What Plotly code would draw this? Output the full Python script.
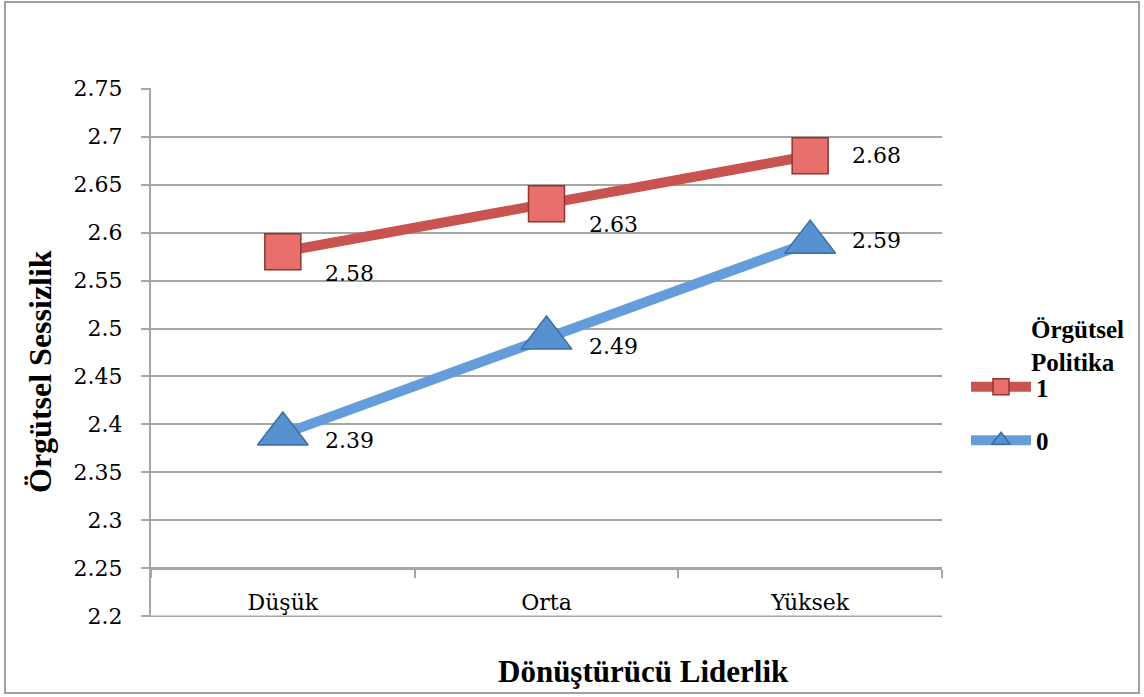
import plotly.graph_objects as go

# Category axis and series values
categories = ["Düşük", "Orta", "Yüksek"]
politika_1 = [2.58, 2.63, 2.68]
politika_0 = [2.39, 2.49, 2.59]
series_names = ["<b>1</b>", "<b>0</b>"]

y_tick_vals = [2.2, 2.25, 2.3, 2.35, 2.4, 2.45, 2.5, 2.55, 2.6, 2.65, 2.7, 2.75]
y_tick_text = ["2.2", "2.25", "2.3", "2.35", "2.4", "2.45", "2.5", "2.55", "2.6", "2.65", "2.7", "2.75"]

RED_LINE = "#C9534F"
RED_FILL = "#E8706C"
RED_EDGE = "#8E3431"
BLUE_LINE = "#659DDA"
BLUE_FILL = "#5891D0"
BLUE_EDGE = "#3B6DA6"
GRID = "#A6A6A6"

fig = go.Figure()

fig.add_trace(go.Scatter(
    x=categories, y=politika_1, name=series_names[0], mode="lines+markers",
    line=dict(color=RED_LINE, width=10),
    marker=dict(symbol="square", size=36, color=RED_FILL,
                line=dict(color=RED_EDGE, width=1.5)),
    legendgroup="g1",
))
fig.add_trace(go.Scatter(
    x=categories, y=politika_0, name=series_names[1], mode="lines+markers",
    line=dict(color=BLUE_LINE, width=10),
    marker=dict(symbol="triangle-up", size=44, color=BLUE_FILL,
                line=dict(color=BLUE_EDGE, width=1.5)),
    legendgroup="g0",
))

# Value labels next to each point
label_font = dict(family="DejaVu Serif", size=22, color="#000000")
red_shift = [-22, -21, 0]
blue_shift = [-6, -8, 2]
for cat, v, dy in zip(categories, politika_1, red_shift):
    fig.add_annotation(x=cat, y=v, text=f"{v:.2f}", showarrow=False,
                       xanchor="left", yanchor="middle", xshift=40, yshift=dy,
                       font=label_font)
for cat, v, dy in zip(categories, politika_0, blue_shift):
    fig.add_annotation(x=cat, y=v, text=f"{v:.2f}", showarrow=False,
                       xanchor="left", yanchor="middle", xshift=40, yshift=dy,
                       font=label_font)

# Plot area: x 151..942, y 88..617 in a 1144x697 page
L, R, T, B = 151, 942, 88, 617
W, H = 1144, 697
pw, ph = R - L, B - T


def px_x(p):
    return (p - L) / pw


def px_y(p):
    return (B - p) / ph


y_lo, y_hi = 2.2, 2.75

# Bottom gridline at the lowest tick value
fig.add_shape(type="line", xref="paper", yref="y", x0=0, x1=1,
              y0=y_tick_vals[0], y1=y_tick_vals[0],
              line=dict(color=GRID, width=2), layer="below")

# Axis titles and legend heading
fig.add_annotation(x=px_x(643), y=px_y(672), xref="paper", yref="paper",
                   text="<b>Dönüştürücü Liderlik</b>", showarrow=False,
                   font=dict(family="Liberation Serif", size=31, color="#000000"),
                   xanchor="center", yanchor="middle")
fig.add_annotation(x=px_x(40), y=px_y(372), xref="paper", yref="paper",
                   text="<b>Örgütsel Sessizlik</b>", showarrow=False,
                   textangle=-90,
                   font=dict(family="Liberation Serif", size=32, color="#000000"),
                   xanchor="center", yanchor="middle")
fig.add_annotation(x=px_x(1029), y=px_y(314), xref="paper", yref="paper",
                   text="<b>Örgütsel</b><br><b>Politika</b>", showarrow=False,
                   align="left",
                   font=dict(family="Liberation Serif", size=25, color="#000000"),
                   xanchor="left", yanchor="top")

# Outer chart frame
fig.add_shape(type="rect", xref="paper", yref="paper",
              x0=px_x(5), x1=px_x(1139), y0=px_y(693), y1=px_y(2),
              line=dict(color="#A0A0A0", width=2), fillcolor="rgba(0,0,0,0)",
              layer="below")

fig.update_layout(
    width=W, height=H,
    margin=dict(l=L, r=W - R, t=T, b=H - B, pad=0),
    paper_bgcolor="white", plot_bgcolor="white",
    showlegend=True,
    legend=dict(x=px_x(966), y=px_y(364), xanchor="left", yanchor="top",
                font=dict(family="Liberation Serif", size=25, color="#000000"),
                traceorder="grouped", tracegroupgap=18, itemwidth=60,
                bgcolor="rgba(0,0,0,0)"),
    xaxis=dict(type="category", range=[-0.5, 2.5], anchor="free",
               position=(2.25 - y_lo) / (y_hi - y_lo),
               showline=True, linecolor=GRID, linewidth=2,
               ticks="outside", tickson="boundaries", ticklen=8,
               tickcolor=GRID, tickwidth=2, showgrid=False,
               ticklabelstandoff=14,
               tickfont=dict(family="DejaVu Serif", size=22, color="#000000")),
    yaxis=dict(range=[y_lo - 0.0006, y_hi + 0.0006],
               tickvals=y_tick_vals, ticktext=y_tick_text,
               showline=True, linecolor=GRID, linewidth=2,
               ticks="outside", ticklen=8, tickcolor=GRID, tickwidth=2,
               showgrid=True, gridcolor=GRID, gridwidth=2, zeroline=False,
               ticklabelstandoff=14,
               tickfont=dict(family="DejaVu Serif", size=22, color="#000000")),
)

fig.write_html("out.html")
